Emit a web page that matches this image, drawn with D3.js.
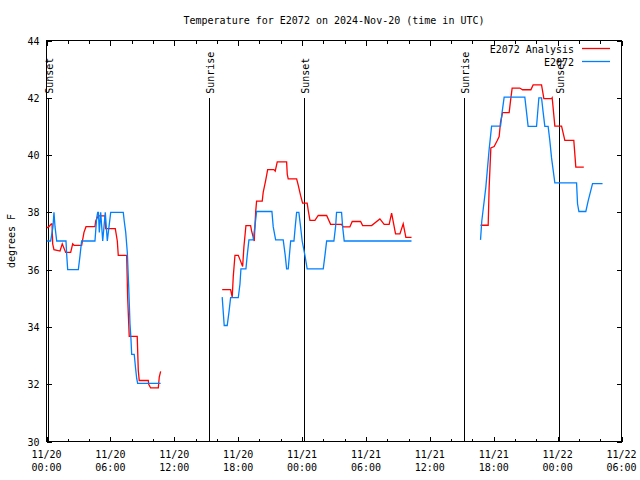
<!DOCTYPE html>
<html><head><meta charset="utf-8">
<script src="https://cdn.jsdelivr.net/npm/d3@7"></script>
<style>
html,body{margin:0;padding:0;background:#fff;}
text{font-family:"DejaVu Sans Mono",monospace;font-size:10px;fill:#000;}
</style></head>
<body>
<svg id="chart" width="640" height="480"></svg>
<script>
// ---- data (hours since 2024-11-20 00:00 UTC; null = gap) ----
const chartTitle = "Temperature for E2072 on 2024-Nov-20 (time in UTC)";
const yLabel = "degrees F";
const seriesNames = ["E2072 Analysis", "E2072"];
const seriesColors = ["#ff0000", "#0080ff"];
const yTicks = [30, 32, 34, 36, 38, 40, 42, 44];

const analysisHours = [0.02,0.23,0.45,0.52,0.58,0.70,1.27,1.48,1.80,2.27,2.46,2.58,3.30,3.52,3.71,4.55,4.62,4.86,5.49,5.56,6.46,6.65,6.74,7.53,7.56,7.62,7.77,8.52,8.62,8.71,9.56,9.60,9.78,10.50,10.59,10.72,
  13.0,
  16.50,17.29,17.44,17.54,17.70,18.01,18.17,18.42,18.54,18.73,19.17,19.26,19.51,19.64,19.73,20.26,20.35,20.58,20.77,21.36,21.48,21.67,22.55,22.61,22.70,23.49,23.64,23.86,24.05,24.48,24.58,24.74,25.21,25.52,26.31,26.68,27.71,27.86,28.49,28.71,29.50,29.69,30.53,31.31,31.71,32.18,32.41,32.78,33.19,33.50,33.75,34.28,
  37.0,
  40.76,41.48,41.57,41.73,42.04,42.32,42.51,42.64,42.83,43.45,43.58,43.73,44.45,44.71,45.49,45.70,46.49,46.71,47.43,47.49,47.74,48.37,48.68,49.52,49.71,50.46];
const analysisTemps = [37.46,37.5,37.6,37.6,36.9,36.7,36.65,36.9,36.6,36.6,36.9,36.85,36.85,37.3,37.5,37.5,37.7,37.88,37.88,37.43,37.43,37.0,36.5,36.5,36.0,35.04,33.67,33.67,32.48,32.13,32.13,32.0,31.87,31.87,32.25,32.45,
  null,
  35.3,35.3,35.04,35.76,36.5,36.5,36.35,36.11,36.8,37.54,37.54,37.35,37.0,38.0,38.39,38.39,38.7,39.11,39.49,39.49,39.44,39.76,39.76,39.33,39.17,39.17,38.95,38.59,38.32,38.32,38.07,37.72,37.72,37.89,37.89,37.58,37.58,37.49,37.49,37.68,37.68,37.54,37.54,37.77,37.58,37.58,37.97,37.25,37.25,37.6,37.13,37.13,
  null,
  37.55,37.55,38.88,40.25,40.3,40.5,40.65,41.15,41.48,41.48,41.9,42.34,42.34,42.28,42.28,42.45,42.45,41.97,41.97,42.0,41.01,41.01,40.51,40.51,39.58,39.58];

const observedHours = [0.02,0.39,0.61,0.70,0.80,0.96,1.83,1.90,1.99,2.99,3.15,3.30,4.55,4.71,4.81,4.88,4.96,5.09,5.28,5.40,5.52,5.71,5.87,6.03,7.21,7.30,7.44,7.59,7.72,7.84,7.93,8.00,8.24,8.37,8.47,8.56,10.72,
  13.0,
  16.50,16.69,16.97,17.13,17.29,18.01,18.17,18.26,18.73,18.85,19.01,19.41,19.57,19.73,21.17,21.29,21.52,22.23,22.42,22.55,22.70,22.93,23.24,23.36,23.49,23.70,23.86,24.01,24.27,24.48,25.99,26.15,26.31,26.99,27.15,27.24,27.71,27.81,27.96,34.28,
  37.0,
  40.76,40.88,41.26,41.57,41.80,42.64,42.79,42.98,44.92,45.08,45.23,46.02,46.24,46.49,46.64,46.80,47.11,47.27,47.43,47.74,49.78,49.87,50.00,50.65,50.87,51.28,52.22];
const observedTemps = [37.0,37.0,37.5,38.0,37.5,37.0,37.0,36.5,36.0,36.0,36.5,37.0,37.0,37.8,38.0,38.0,37.3,38.0,37.0,37.5,38.0,37.0,37.5,38.0,38.0,37.7,37.3,36.6,35.4,34.12,33.6,33.04,33.04,32.54,32.2,32.03,32.03,
  null,
  35.04,34.05,34.05,34.5,35.02,35.02,35.5,36.03,36.03,36.5,37.04,37.04,37.5,38.03,38.03,37.5,37.04,37.04,36.5,36.03,36.03,37.0,37.0,37.5,38.0,38.0,37.5,37.0,36.5,36.03,36.03,36.5,37.0,37.0,37.5,38.0,38.0,37.5,37.0,37.0,
  null,
  37.04,37.7,38.88,40.2,41.01,41.01,41.5,42.02,42.02,41.5,41.0,41.0,42.0,42.0,41.5,41.0,41.0,40.5,39.9,39.03,39.03,38.3,38.03,38.03,38.4,39.0,39.0];

const sunLabels = ["Sunset", "Sunrise", "Sunset", "Sunrise", "Sunset"];
const sunHours = [0.17, 15.28, 24.2, 39.22, 48.14];
const sunLineTop = 42;

const startMs = Date.UTC(2024, 10, 20, 0, 0);
const endHours = 54;

// ---- drawing ----
const toDate = h => new Date(startMs + h * 3600e3);
const svg = d3.select("#chart");
const L = 46.5, R = 621.5, T = 40.5, B = 441.5;

const x = d3.scaleUtc().domain([toDate(0), toDate(endHours)]).range([L, R]);
const y = d3.scaleLinear().domain([30, 44]).range([B, T]);

const major = d3.utcHour.every(6).range(toDate(0), toDate(endHours + 0.01));
const minor = d3.utcHour.every(2).range(toDate(0), toDate(endHours + 0.01)).filter(d => d.getUTCHours() % 6 !== 0);

const axes = svg.append("g").attr("shape-rendering", "crispEdges");
// frame
axes.append("rect").attr("x", L).attr("y", T).attr("width", R - L).attr("height", B - T)
  .attr("fill", "none").attr("stroke", "#000").attr("stroke-width", 1);

const fmtD = d3.utcFormat("%m/%d"), fmtT = d3.utcFormat("%H:%M");
// bottom axis
const gB = axes.append("g").attr("transform", `translate(0,${B})`)
  .call(d3.axisBottom(x).tickValues(major).tickSize(-5).tickSizeOuter(0).tickFormat(""));
gB.select(".domain").remove();
const gBm = axes.append("g").attr("transform", `translate(0,${B})`)
  .call(d3.axisBottom(x).tickValues(minor).tickSize(-3).tickSizeOuter(0).tickFormat(""));
gBm.select(".domain").remove();
// top axis
const gT = axes.append("g").attr("transform", `translate(0,${T})`)
  .call(d3.axisTop(x).tickValues(major).tickSize(-5).tickSizeOuter(0).tickFormat(""));
gT.select(".domain").remove();
const gTm = axes.append("g").attr("transform", `translate(0,${T})`)
  .call(d3.axisTop(x).tickValues(minor).tickSize(-3).tickSizeOuter(0).tickFormat(""));
gTm.select(".domain").remove();
// left / right axes
const gL = axes.append("g").attr("transform", `translate(${L},0)`)
  .call(d3.axisLeft(y).tickValues(yTicks).tickSize(-5).tickSizeOuter(0).tickPadding(7).tickFormat(d3.format("d")));
gL.select(".domain").remove();
gL.selectAll("text").attr("font-family", null).attr("font-size", null).attr("dy", "0.35em");
const gR = axes.append("g").attr("transform", `translate(${R},0)`)
  .call(d3.axisRight(y).tickValues(yTicks).tickSize(-5).tickSizeOuter(0).tickFormat(""));
gR.select(".domain").remove();
axes.selectAll(".tick line").attr("stroke", "#000");

// x labels
const xl = svg.append("g");
major.forEach(d => {
  const t = xl.append("text").attr("text-anchor", "middle").attr("x", x(d));
  t.append("tspan").attr("x", x(d)).attr("y", B + 16).text(fmtD(d));
  t.append("tspan").attr("x", x(d)).attr("y", B + 29).text(fmtT(d));
});

// title & y label
svg.append("text").attr("x", (L + R) / 2).attr("y", 24).attr("text-anchor", "middle").text(chartTitle);
svg.append("text").attr("transform", `translate(15,${(T + B) / 2}) rotate(-90)`)
  .attr("text-anchor", "middle").text(yLabel);

// sun lines
sunHours.forEach((h, i) => {
  const sx = Math.round(x(toDate(h))) + 0.5;
  svg.append("line").attr("x1", sx).attr("x2", sx).attr("y1", y(sunLineTop)).attr("y2", B)
    .attr("stroke", "#000").attr("stroke-width", 1).attr("shape-rendering", "crispEdges");
  svg.append("text").attr("transform", `translate(${sx + 4},${y(sunLineTop) - 4}) rotate(-90)`)
    .attr("text-anchor", "start").text(sunLabels[i]);
});

// series
const line = d3.line().defined(d => d[1] !== null).x(d => x(toDate(d[0]))).y(d => y(d[1]));
const analysisData = analysisHours.map((h, i) => [h, analysisTemps[i]]);
const observedData = observedHours.map((h, i) => [h, observedTemps[i]]);
svg.append("path").datum(analysisData).attr("d", line).attr("fill", "none")
  .attr("stroke", seriesColors[0]).attr("stroke-width", 1.3);
svg.append("path").datum(observedData).attr("d", line).attr("fill", "none")
  .attr("stroke", seriesColors[1]).attr("stroke-width", 1.3);

// legend
const lg = svg.append("g");
seriesNames.forEach((n, i) => {
  const ly = 49 + i * 13;
  lg.append("text").attr("x", 574).attr("y", ly).attr("dy", "0.35em").attr("text-anchor", "end").text(n);
  lg.append("line").attr("x1", 582).attr("x2", 610).attr("y1", ly - 0.5).attr("y2", ly - 0.5)
    .attr("stroke", seriesColors[i]).attr("stroke-width", 1.3);
});
</script>
</body></html>
